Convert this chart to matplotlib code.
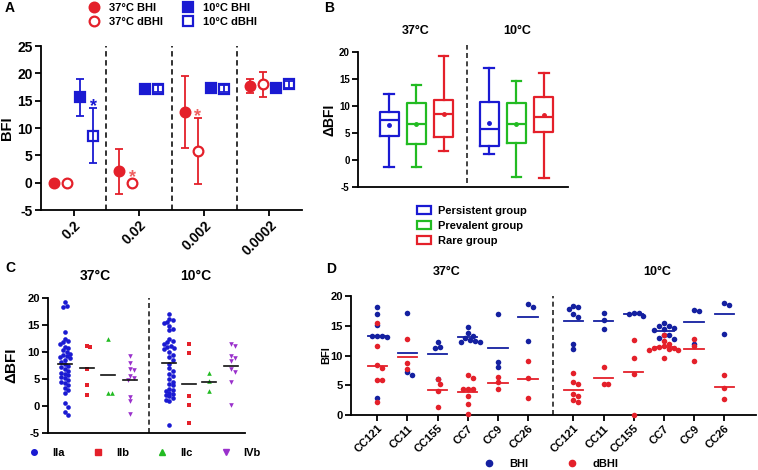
import matplotlib
matplotlib.use('Agg')
import numpy as np
import matplotlib.pyplot as plt
from matplotlib.lines import Line2D
from matplotlib.patches import Patch

plt.rcParams['font.family'] = ['Liberation Sans', 'DejaVu Sans']
plt.rcParams['font.weight'] = 'bold'
plt.rcParams['axes.labelweight'] = 'bold'
plt.rcParams['axes.linewidth'] = 1.3
plt.rcParams['axes.unicode_minus'] = False

RED = '#e4202a'
BLUE = '#1a1ad2'
NAVY = '#1420a0'
GREEN = '#22bb22'
PURPLE = '#9a30cc'

# ---- panel A data (mean, sd) ----
conc = ['0.2', '0.02', '0.002', '0.0002']
bhi37 = [0.0, 2.1, 13.0, 17.7]
bhi37_sd = [0.0, 4.15, 6.6, 1.35]
dbhi37 = [0.0, 0.0, 5.8, 18.0]
dbhi37_sd = [0.0, 0.0, 6.1, 2.25]
bhi10 = [15.6, 17.2, 17.3, 17.4]
bhi10_sd = [3.45, 0.5, 0.5, 0.4]
dbhi10 = [8.6, 17.2, 17.2, 18.0]
dbhi10_sd = [5.0, 0.6, 0.7, 0.6]

# ---- panel B data (box stats) ----
grp_names = ['Persistent group', 'Prevalent group', 'Rare group']
b37_lo = [-1.3, -1.3, 1.7]
b37_q1 = [4.4, 3.0, 4.2]
b37_med = [7.5, 6.7, 8.5]
b37_q3 = [8.9, 10.6, 11.1]
b37_hi = [12.2, 13.8, 19.3]
b37_mean = [6.4, 6.6, 8.6]
b10_lo = [1.1, -3.1, -3.3]
b10_q1 = [2.65, 3.1, 5.1]
b10_med = [5.8, 6.6, 8.0]
b10_q3 = [10.7, 10.6, 11.6]
b10_hi = [17.1, 14.6, 16.2]
b10_mean = [6.9, 6.7, 8.3]

# ---- panel C data ----
lineages = ['IIa', 'IIb', 'IIc', 'IVb']
c37_IIa = [19.3, 18.6, 18.3, 13.7, 12.5, 12.0, 11.8, 11.5, 11.0, 10.8, 10.3, 10.0,
           9.7, 9.4, 9.2, 9.0, 8.8, 8.5, 8.2, 7.8, 7.5, 7.2, 6.8, 6.5, 6.2, 6.0,
           5.7, 5.4, 5.1, 4.8, 4.5, 4.2, 3.8, 3.4, 3.0, 2.5, 0.5, -0.1, -1.2, -1.6]
c37_IIb = [11.1, 10.9, 6.9, 3.9, 2.1]
c37_IIc = [12.4, 2.5, 2.4]
c37_IVb = [9.2, 8.0, 6.9, 6.7, 5.6, 5.1, 4.9, 1.7, 1.0, -1.4]
c10_IIa = [17.1, 16.2, 15.9, 15.5, 15.3, 14.8, 14.3, 14.0, 12.5, 12.0, 11.8, 11.5,
           11.2, 11.0, 10.8, 10.5, 10.0, 9.5, 9.0, 8.5, 7.8, 7.0, 6.5, 6.0, 5.5,
           5.0, 4.5, 4.0, 3.8, 3.2, 3.0, 2.8, 2.5, 2.2, 2.0, 1.8, 1.5, 1.2, 1.0, -3.5]
c10_IIb = [11.4, 9.9, 1.8, 0.1, -3.2]
c10_IIc = [6.1, 4.7, 2.7]
c10_IVb = [11.5, 11.1, 9.2, 8.8, 8.4, 6.8, 6.3, 4.4, 0.1]

# ---- panel D data ----
ccs = ['CC121', 'CC11', 'CC155', 'CC7', 'CC9', 'CC26']
d37_bhi = [[18.1, 17.0, 15.1, 13.3, 13.2, 13.2, 13.1, 2.9],
           [17.1, 7.3, 6.8],
           [11.5, 11.2, 12.2, 6.0],
           [14.8, 13.7, 13.3, 12.9, 12.6, 12.5, 12.3, 12.2],
           [16.9, 8.9, 8.1],
           [18.1, 18.6, 12.5]]
d37_dbhi = [[15.5, 11.6, 8.35, 7.9, 5.9, 5.9, 2.2],
            [12.7, 8.7, 7.7],
            [5.2, 6.0, 4.0, 1.4],
            [6.2, 6.7, 4.3, 4.4, 4.3, 3.2, 1.8, 0.2],
            [6.4, 5.5, 4.3],
            [9.0, 6.2, 2.9]]
d10_bhi = [[18.3, 18.2, 17.8, 16.9, 16.4, 11.9, 11.1],
           [17.1, 16.0, 14.4],
           [17.2, 16.6, 16.9, 17.2],
           [15.4, 15.0, 14.9, 14.7, 14.5, 14.3, 13.5, 13.4, 13.0, 12.8],
           [17.5, 17.6, 11.9],
           [18.5, 18.9, 13.6]]
d10_dbhi = [[7.0, 5.2, 5.5, 3.2, 3.6, 2.2, 2.6],
            [8.1, 5.2, 5.2],
            [12.6, 9.5, 6.9, 0.0],
            [13.4, 12.4, 11.9, 11.6, 11.5, 11.3, 11.2, 11.1, 11.0, 10.9, 9.6],
            [11.6, 12.8, 9.1],
            [6.8, 4.5, 2.7]]

W, H = 758, 470


def box(l, r, t, b):
    return [l / W, 1 - b / H, (r - l) / W, (b - t) / H]


def ft(x, y, s, **kw):
    fig.text(x / W, 1 - y / H, s, **kw)


def style(ax, fs):
    for s in ['top', 'right']:
        ax.spines[s].set_visible(False)
    ax.tick_params(direction='out', length=4, width=1.3, labelsize=fs, pad=2)
    for lab in ax.get_xticklabels() + ax.get_yticklabels():
        lab.set_fontweight('bold')


def swarm(vals, dx, dy):
    vals = np.asarray(vals, float)
    offs = np.zeros(len(vals))
    placed = []
    cands = [0.0]
    for j in range(1, 40):
        cands += [j * dx * 0.5, -j * dx * 0.5]
    for i in np.argsort(-vals):
        for c in cands:
            if all(((c - px) / dx) ** 2 + ((vals[i] - pv) / dy) ** 2 >= 1 for px, pv in placed):
                break
        offs[i] = c
        placed.append((c, vals[i]))
    return offs


fig = plt.figure(figsize=(W / 100, H / 100), dpi=100)

# ================= A =================
ax = fig.add_axes(box(41, 302, 46, 210))
g = np.arange(len(conc))
series = [(bhi37, bhi37_sd, RED, 'o', RED, -0.3, '37°C BHI'),
          (dbhi37, dbhi37_sd, RED, 'o', 'white', -0.1, '37°C dBHI'),
          (bhi10, bhi10_sd, BLUE, 's', BLUE, 0.1, '10°C BHI'),
          (dbhi10, dbhi10_sd, BLUE, 's', 'none', 0.3, '10°C dBHI')]
handles = []
for y, sd, c, m, fc, off, lab in series:
    y = np.array(y)
    sd = np.array(sd)
    x = g + off
    k = sd > 0
    ax.errorbar(x[k], y[k], yerr=sd[k], fmt='none', ecolor=c, elinewidth=1.3,
                capsize=3, capthick=1.3, zorder=2)
    ax.plot(x, y, ls='none', marker=m, ms=7, mfc=fc, mec=c, mew=1.6, zorder=3)
    handles.append(Line2D([0], [0], ls='none', marker=m, ms=7, mfc=fc, mec=c, mew=1.6, label=lab))
ax.text(0.3, 14.0, '*', color=BLUE, ha='center', va='center', fontsize=13)
ax.text(0.9, 0.9, '*', color='#ef6060', ha='center', va='center', fontsize=13)
ax.text(1.9, 12.1, '*', color='#ef6060', ha='center', va='center', fontsize=13)
for d in [0.5, 1.5, 2.5]:
    ax.axvline(d, color='#222222', ls=(0, (3, 2)), lw=1.3)
ax.set_xlim(-0.5, 3.5)
ax.set_ylim(-5, 25)
ax.set_yticks(range(-5, 26, 5))
ax.set_xticks(g)
ax.set_xticklabels(conc, rotation=45, ha='right', rotation_mode='anchor')
ax.set_ylabel('BFI', fontsize=10.5)
ax.yaxis.set_label_coords(-0.102, 0.5)
style(ax, 10)
fig.legend(handles=handles, ncol=2, loc='center', bbox_to_anchor=(170 / W, 1 - 15 / H),
           frameon=False, handletextpad=0.4, columnspacing=1.2,
           labelspacing=0.35, prop={'weight': 'bold', 'size': 8})

# ================= B =================
ax = fig.add_axes(box(358, 568, 52, 187))
cols = [BLUE, GREEN, RED]
pos37 = [0, 1, 2]
pos10 = [3.67, 4.67, 5.67]
for pos, lo, q1, med, q3, hi, mn in [(pos37, b37_lo, b37_q1, b37_med, b37_q3, b37_hi, b37_mean),
                                     (pos10, b10_lo, b10_q1, b10_med, b10_q3, b10_hi, b10_mean)]:
    for i in range(3):
        st = [dict(whislo=lo[i], q1=q1[i], med=med[i], q3=q3[i], whishi=hi[i],
                   mean=mn[i], fliers=[])]
        c = cols[i]
        ax.bxp(st, positions=[pos[i]], widths=0.7, showmeans=True, manage_ticks=False,
               boxprops=dict(color=c, lw=1.6), whiskerprops=dict(color=c, lw=1.6),
               capprops=dict(color=c, lw=1.6), medianprops=dict(color=c, lw=1.6),
               meanprops=dict(marker='o', ms=2.5, mfc=c, mec=c))
ax.axvline(2.85, ymin=0.03, ymax=1.05, color='#222222', ls=(0, (3, 2)), lw=1.2, clip_on=False)
ax.set_xlim(-1.14, 6.56)
ax.set_ylim(-5, 20)
ax.set_yticks(range(-5, 21, 5))
ax.set_xticks([])
ax.set_ylabel('ΔBFI', fontsize=10)
ax.yaxis.set_label_coords(-0.1, 0.5)
style(ax, 7)
ft(416, 31, '37°C', ha='center', va='center', fontsize=9, fontweight='bold')
ft(517, 31, '10°C', ha='center', va='center', fontsize=9, fontweight='bold')
bh = [Patch(facecolor='white', edgecolor=c, lw=1.6) for c in cols]
fig.legend(bh, grp_names, loc='upper left', bbox_to_anchor=(407 / W, 1 - 196 / H),
           frameon=False, handlelength=1.3, handleheight=0.7, handletextpad=0.6,
           labelspacing=0.45, prop={'weight': 'bold', 'size': 8})

# ================= C =================
ax = fig.add_axes(box(48, 245, 298, 433))
cpos37 = [0, 1, 2, 3]
cpos10 = [4.8, 5.7, 6.65, 7.65]
cmark = ['o', 's', '^', 'v']
ccol = [BLUE, RED, GREEN, PURPLE]
for pos, sets in [(cpos37, [c37_IIa, c37_IIb, c37_IIc, c37_IVb]),
                  (cpos10, [c10_IIa, c10_IIb, c10_IIc, c10_IVb])]:
    for i, v in enumerate(sets):
        off = swarm(v, 0.16, 0.7)
        ax.scatter(pos[i] + off, v, s=11, marker=cmark[i], color=ccol[i], lw=0, zorder=3)
        m = np.mean(v)
        ax.plot([pos[i] - 0.32, pos[i] + 0.32], [m, m], color='#111111', lw=1.2, zorder=4)
ax.axvline(3.85, color='#222222', ls=(0, (3, 2)), lw=1.2)
ax.set_xlim(-0.78, 8.29)
ax.set_ylim(-5, 20)
ax.set_yticks(range(-5, 21, 5))
ax.set_xticks([])
ax.set_ylabel('ΔBFI', fontsize=11)
ax.yaxis.set_label_coords(-0.15, 0.5)
style(ax, 8)
ft(95, 276, '37°C', ha='center', va='center', fontsize=10, fontweight='bold')
ft(196, 276, '10°C', ha='center', va='center', fontsize=10, fontweight='bold')
ch = [Line2D([0], [0], ls='none', marker=cmark[i], ms=4, mfc=ccol[i], mec=ccol[i]) for i in range(4)]
fig.legend(ch, lineages, ncol=4, loc='center', bbox_to_anchor=(142 / W, 1 - 453 / H),
           frameon=False, handletextpad=0.6, columnspacing=2.0,
           prop={'weight': 'bold', 'size': 8})

# ================= D =================
ax = fig.add_axes(box(351, 756, 296, 415))
dpos37 = np.arange(6)
dpos10 = np.arange(6) + 6.5
for pos, bh_, db_ in [(dpos37, d37_bhi, d37_dbhi), (dpos10, d10_bhi, d10_dbhi)]:
    for i in range(6):
        for v, c in [(bh_[i], NAVY), (db_[i], RED)]:
            off = swarm(v, 0.16, 0.8)
            ax.scatter(pos[i] + off, v, s=16, color=c, lw=0, zorder=3, clip_on=False)
            m = np.mean(v)
            ax.plot([pos[i] - 0.32, pos[i] + 0.32], [m, m], color=c, lw=1.3, zorder=2)
ax.axvline(5.83, color='#222222', ls=(0, (3, 2)), lw=1.2)
ax.set_xlim(-0.87, 12.55)
ax.set_ylim(0, 20)
ax.set_yticks(range(0, 21, 5))
ax.set_xticks(list(dpos37) + list(dpos10))
ax.set_xticklabels(ccs + ccs, rotation=45, ha='right', rotation_mode='anchor')
ax.set_ylabel('BFI', fontsize=8)
ax.yaxis.set_label_coords(-0.05, 0.5)
style(ax, 8)
ft(447, 272, '37°C', ha='center', va='center', fontsize=9, fontweight='bold')
ft(657, 272, '10°C', ha='center', va='center', fontsize=9, fontweight='bold')
dh = [Line2D([0], [0], ls='none', marker='o', ms=4.5, mfc=c, mec=c) for c in [NAVY, RED]]
fig.legend(dh, ['BHI', 'dBHI'], ncol=2, loc='center', bbox_to_anchor=(548 / W, 1 - 464 / H),
           frameon=False, handletextpad=0.8, columnspacing=3.0,
           prop={'weight': 'bold', 'size': 8})

# panel letters
ft(5, 8, 'A', ha='left', va='center', fontsize=10, fontweight='bold')
ft(324, 8, 'B', ha='left', va='center', fontsize=10, fontweight='bold')
ft(5, 268, 'C', ha='left', va='center', fontsize=10, fontweight='bold')
ft(326, 269, 'D', ha='left', va='center', fontsize=10, fontweight='bold')

fig.savefig('out.png', dpi=100)
